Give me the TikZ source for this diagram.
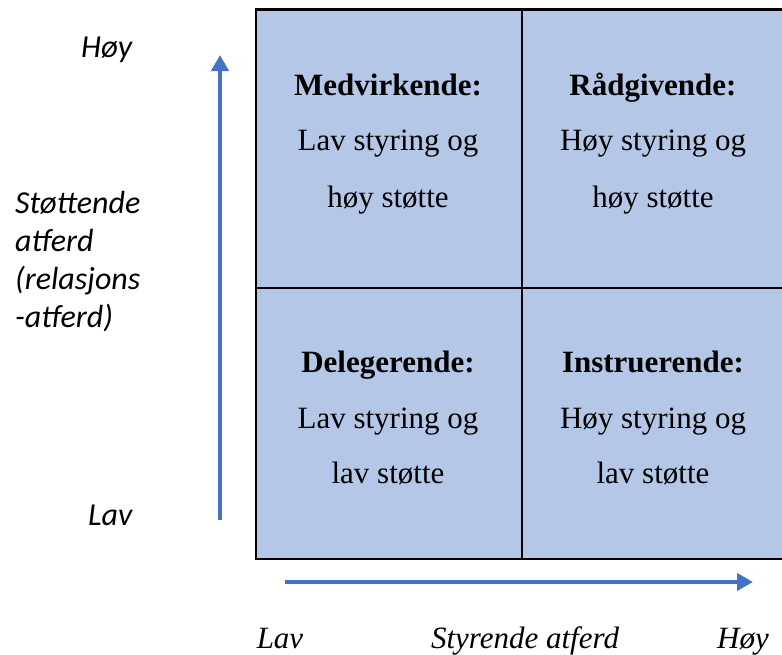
\documentclass[tikz,border=0pt]{standalone}
\usepackage{fontspec}
\setmainfont{Liberation Serif}
\newfontfamily\carlitofont{Carlito}
\usetikzlibrary{arrows.meta}
\definecolor{cellfill}{HTML}{B4C7E7}
\definecolor{arrowblue}{HTML}{4472C4}
\tikzset{
  serif/.style={font=\fontsize{31}{36}\selectfont, inner sep=0pt, anchor=base},
  headtxt/.style={font=\fontsize{31}{36}\selectfont\bfseries, inner sep=0pt, anchor=base},
  sanslab/.style={font=\fontsize{32}{38}\selectfont\carlitofont\itshape, inner sep=0pt, anchor=base west},
  seriflab/.style={font=\fontsize{31}{36}\selectfont\itshape, inner sep=0pt, anchor=base},
  axisarrow/.style={draw=arrowblue, line width=4.5pt, -{Triangle[length=16pt,width=17pt]}},
  gridline/.style={draw=black, line width=2.6pt}
}
\begin{document}
\begin{tikzpicture}[x=1pt,y=-1pt]
\useasboundingbox (0,0) rectangle (782,654);
% grid
\fill[cellfill] (256,9.5) rectangle (790,559);
\coordinate (tl) at (256,9.5);
\coordinate (br) at (790,559);
\coordinate (mt) at (522,9.5);
\coordinate (mb) at (522,559);
\coordinate (ml) at (256,288);
\coordinate (mr) at (790,288);
\draw[gridline] (tl) rectangle (br);
\draw[gridline] (mt) -- (mb);
\draw[gridline] (ml) -- (mr);
% cell texts
\node[headtxt] (h1) at (388,95) {Medvirkende:};
\node[serif] (t1a) at (388,150) {Lav styring og};
\node[serif] (t1b) at (388,207) {høy støtte};
\node[headtxt] (h2) at (653,95) {Rådgivende:};
\node[serif] (t2a) at (653,150) {Høy styring og};
\node[serif] (t2b) at (653,207) {høy støtte};
\node[headtxt] (h3) at (388,372) {Delegerende:};
\node[serif] (t3a) at (388,428) {Lav styring og};
\node[serif] (t3b) at (388,483) {lav støtte};
\node[headtxt] (h4) at (653,372) {Instruerende:};
\node[serif] (t4a) at (653,428) {Høy styring og};
\node[serif] (t4b) at (653,483) {lav støtte};
% vertical axis
\coordinate (vs) at (220,520);
\coordinate (ve) at (220,55);
\draw[axisarrow] (vs) -- (ve);
\node[sanslab] (vhigh) at (81,57) {Høy};
\node[sanslab] (vl1) at (15,213) {Støttende};
\node[sanslab] (vl2) at (15,251) {atferd};
\node[sanslab] (vl3) at (15,289) {(relasjons};
\node[sanslab] (vl4) at (15,327) {-atferd)};
\node[sanslab] (vlow) at (88,525) {Lav};
% horizontal axis
\coordinate (hs) at (285,582);
\coordinate (he) at (753,582);
\draw[axisarrow] (hs) -- (he);
\node[seriflab] (hlow) at (280,648) {Lav};
\node[seriflab] (hmid) at (525,648) {Styrende atferd};
\node[seriflab] (hhigh) at (743,648) {Høy};
\end{tikzpicture}
\end{document}
